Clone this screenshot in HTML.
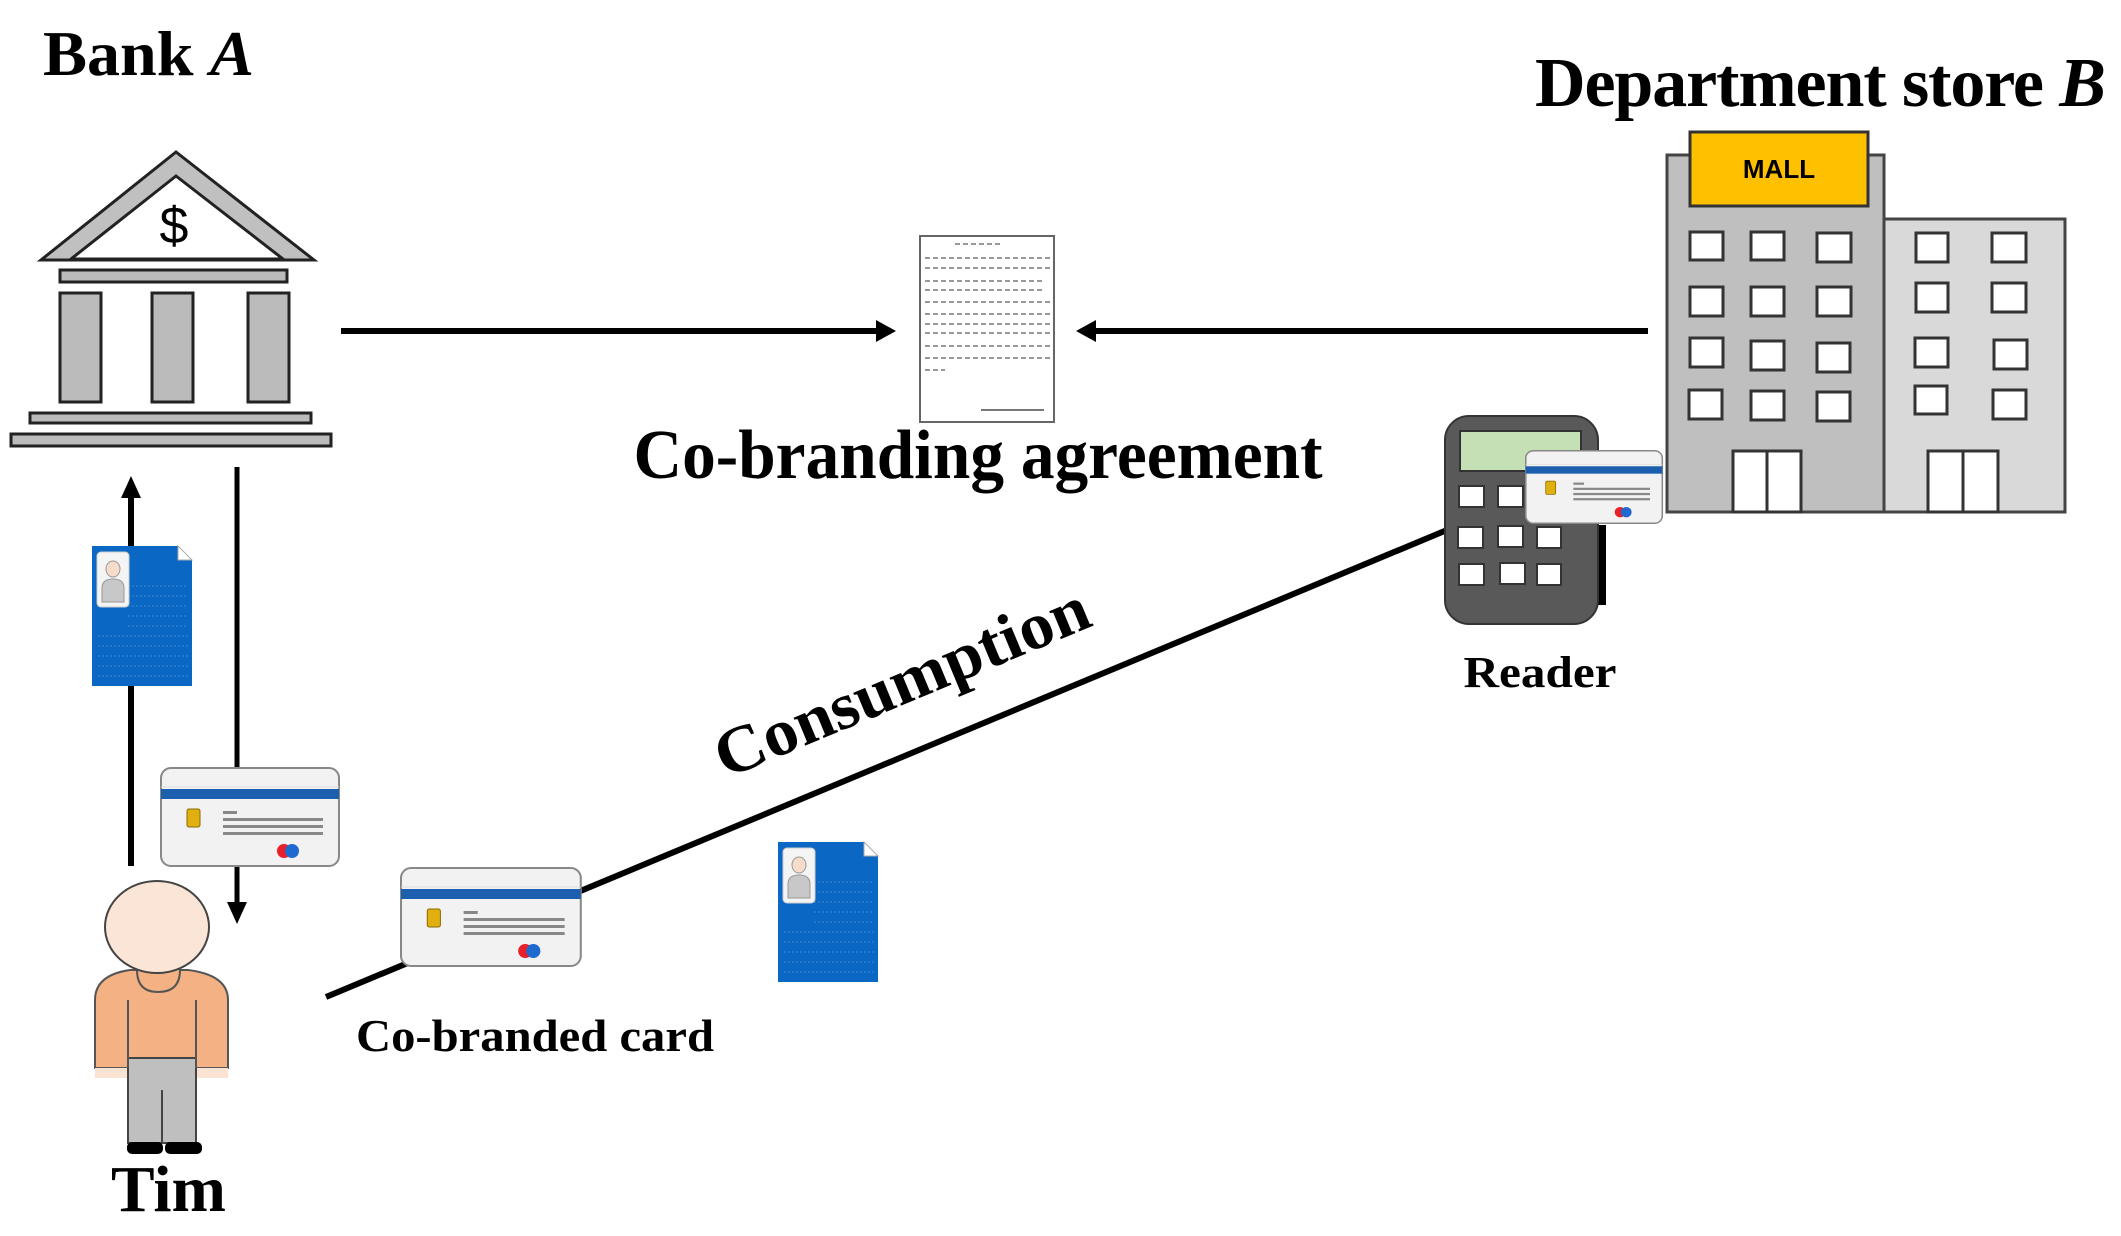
<!DOCTYPE html>
<html><head><meta charset="utf-8"><style>html,body{margin:0;padding:0;background:#fff}svg{display:block}</style></head>
<body>
<svg width="2121" height="1236" viewBox="0 0 2121 1236" xmlns="http://www.w3.org/2000/svg" font-family="'Liberation Serif', serif" font-weight="bold">
<defs>
<g id="card">
 <rect x="1" y="1" width="178" height="98" rx="10" fill="#f2f2f2" stroke="#888" stroke-width="2"/>
 <path d="M1 20 H179" stroke="#ddd" stroke-width="1"/>
 <rect x="1" y="22" width="178" height="10" fill="#1c5fae"/>
 <rect x="27" y="42" width="13" height="18" rx="2" fill="#e0b010" stroke="#8a6a00" stroke-width="1"/>
 <rect x="63" y="44" width="14" height="3" fill="#888"/>
 <rect x="63" y="51" width="100" height="3" fill="#888"/>
 <rect x="63" y="58" width="100" height="3" fill="#888"/>
 <rect x="63" y="65" width="100" height="3" fill="#888"/>
 <circle cx="124" cy="84" r="7" fill="#e8202a"/>
 <circle cx="132" cy="84" r="7" fill="#1e6ad0"/>
</g>
<g id="bdoc">
 <path d="M0 0 H86 L100 14 V140 H0 Z" fill="#0a68c4"/>
 <path d="M86 0 L100 14 H86 Z" fill="#fff" stroke="#aaa" stroke-width="1"/>
 <g stroke="#3d8ad6" stroke-width="1" stroke-dasharray="2 2">
  <path d="M36 40H96M36 50H96M36 60H96M36 70H96M36 80H96M6 90H96M6 100H96M6 110H96M6 120H96M6 130H96"/>
 </g>
 <rect x="5" y="6" width="32" height="55" rx="4" fill="#f4f4f4" stroke="#ccc"/>
 <ellipse cx="21" cy="23" rx="7" ry="8" fill="#f8dccb" stroke="#999"/>
 <path d="M10 56 V42 Q10 33 21 33 Q32 33 32 42 V56 Z" fill="#c8c8c8" stroke="#999"/>
</g>
</defs>

<text x="43" y="75" font-size="64" textLength="211" lengthAdjust="spacingAndGlyphs">Bank <tspan font-style="italic">A</tspan></text>
<polygon points="176,152 41,260 314,260" fill="#c0c0c0" stroke="#222" stroke-width="3"/>
<polygon points="176,176 71,259 283,259" fill="#fff" stroke="#222" stroke-width="3"/>
<text x="174" y="243" font-size="52" font-weight="normal" text-anchor="middle" font-family="'Liberation Sans',sans-serif">$</text>
<rect x="60" y="270" width="227" height="12" fill="#bbb" stroke="#222" stroke-width="3"/>
<rect x="60" y="293" width="41" height="109" fill="#bbb" stroke="#222" stroke-width="3"/>
<rect x="152" y="293" width="41" height="109" fill="#bbb" stroke="#222" stroke-width="3"/>
<rect x="248" y="293" width="41" height="109" fill="#bbb" stroke="#222" stroke-width="3"/>
<rect x="30" y="413" width="281" height="10" fill="#bbb" stroke="#222" stroke-width="3"/>
<rect x="11" y="434" width="320" height="12" fill="#bbb" stroke="#222" stroke-width="3"/>

<line x1="341" y1="331" x2="880" y2="331" stroke="#000" stroke-width="6"/>
<polygon points="896,331 876,320 876,342" fill="#000"/>
<line x1="1648" y1="331" x2="1092" y2="331" stroke="#000" stroke-width="6"/>
<polygon points="1076,331 1096,320 1096,342" fill="#000"/>

<rect x="920" y="236" width="134" height="186" fill="#fff" stroke="#666" stroke-width="2"/>
<g stroke="#999" stroke-width="2" stroke-dasharray="5 3">
<path d="M955 244H1000M925 258H1050M925 268H1050M925 281H1045M925 290H1045M925 302H1050M925 314H1050M925 324H1050M925 333H1050M925 346H1050M925 358H1050M925 370H945"/>
</g>
<line x1="981" y1="410" x2="1044" y2="410" stroke="#777" stroke-width="2"/>
<text x="978" y="478" font-size="70" text-anchor="middle" textLength="689" lengthAdjust="spacingAndGlyphs">Co-branding agreement</text>

<text x="1535" y="106" font-size="70" textLength="571" lengthAdjust="spacing">Department store <tspan font-style="italic">B</tspan></text>
<rect x="1667" y="155" width="217" height="357" fill="#bfbfbf" stroke="#444" stroke-width="3"/>
<rect x="1884" y="219" width="181" height="293" fill="#d9d9d9" stroke="#444" stroke-width="3"/>
<rect x="1690" y="132" width="178" height="74" fill="#ffc000" stroke="#333" stroke-width="3"/>
<text x="1779" y="178" font-size="26" text-anchor="middle" font-family="'Liberation Sans',sans-serif">MALL</text>
<g fill="#fff" stroke="#333" stroke-width="3">
<rect x="1690" y="232" width="33" height="28"/><rect x="1751" y="232" width="33" height="28"/><rect x="1817" y="233" width="34" height="29"/>
<rect x="1690" y="287" width="33" height="29"/><rect x="1751" y="287" width="33" height="29"/><rect x="1817" y="287" width="34" height="29"/>
<rect x="1690" y="338" width="33" height="29"/><rect x="1751" y="341" width="33" height="29"/><rect x="1817" y="343" width="33" height="29"/>
<rect x="1689" y="390" width="33" height="29"/><rect x="1751" y="391" width="33" height="29"/><rect x="1817" y="392" width="33" height="29"/>
<rect x="1916" y="233" width="32" height="29"/><rect x="1992" y="233" width="34" height="29"/>
<rect x="1916" y="283" width="32" height="29"/><rect x="1992" y="283" width="34" height="29"/>
<rect x="1915" y="338" width="33" height="29"/><rect x="1994" y="340" width="33" height="29"/>
<rect x="1915" y="386" width="32" height="28"/><rect x="1993" y="390" width="33" height="29"/>
<rect x="1733" y="451" width="34" height="61"/><rect x="1767" y="451" width="34" height="61"/>
<rect x="1928" y="451" width="35" height="61"/><rect x="1963" y="451" width="35" height="61"/>
</g>

<line x1="326" y1="997" x2="1447" y2="530" stroke="#000" stroke-width="6"/>

<rect x="1597" y="525" width="9" height="80" fill="#000"/>
<rect x="1445" y="416" width="153" height="208" rx="24" fill="#595959" stroke="#333" stroke-width="2"/>
<rect x="1460" y="431" width="121" height="40" fill="#c5e0b4" stroke="#333" stroke-width="2"/>
<g fill="#fff" stroke="#333" stroke-width="2">
<rect x="1459" y="486" width="25" height="21"/><rect x="1498" y="486" width="25" height="21"/>
<rect x="1458" y="527" width="25" height="21"/><rect x="1498" y="526" width="25" height="21"/><rect x="1537" y="527" width="24" height="21"/>
<rect x="1459" y="564" width="25" height="21"/><rect x="1500" y="563" width="25" height="21"/><rect x="1537" y="564" width="24" height="21"/>
</g>
<use href="#card" transform="translate(1525,450) scale(0.767,0.74)"/>
<text x="1540" y="687" font-size="44" text-anchor="middle" textLength="153" lengthAdjust="spacingAndGlyphs">Reader</text>

<text transform="translate(910,702) rotate(-22.6)" x="0" y="0" font-size="66" text-anchor="middle" textLength="400" lengthAdjust="spacingAndGlyphs">Consumption</text>

<line x1="131" y1="866" x2="131" y2="494" stroke="#000" stroke-width="6"/>
<polygon points="131,476 121,498 141,498" fill="#000"/>
<line x1="237" y1="467" x2="237" y2="904" stroke="#000" stroke-width="5"/>
<polygon points="237,924 227,902 247,902" fill="#000"/>

<use href="#bdoc" transform="translate(92,546)"/>
<use href="#card" transform="translate(160,767)"/>
<use href="#card" transform="translate(400,867) scale(1.01,1)"/>
<use href="#bdoc" transform="translate(778,842)"/>

<path d="M95 1068 V1000 Q95 975 130 970 H188 Q228 975 228 1000 V1068 Z" fill="#f4b183" stroke="#555" stroke-width="2"/>
<rect x="95" y="1068" width="133" height="10" fill="#fbe3d3"/>
<rect x="128" y="1058" width="68" height="85" fill="#bfbfbf" stroke="#444" stroke-width="2"/>
<line x1="162" y1="1090" x2="162" y2="1143" stroke="#444" stroke-width="2"/>
<line x1="128" y1="1000" x2="128" y2="1068" stroke="#555" stroke-width="2"/>
<line x1="196" y1="1000" x2="196" y2="1068" stroke="#555" stroke-width="2"/>
<path d="M137 970 Q137 992 158 992 Q180 992 180 970" fill="#f4b183" stroke="#555" stroke-width="2"/>
<ellipse cx="157" cy="927" rx="52" ry="46" fill="#fbe5d6" stroke="#444" stroke-width="2"/>
<rect x="127" y="1142" width="36" height="12" rx="5" fill="#000"/>
<rect x="165" y="1142" width="37" height="12" rx="5" fill="#000"/>
<text x="111" y="1211" font-size="66" textLength="115" lengthAdjust="spacingAndGlyphs">Tim</text>

<text x="356" y="1051" font-size="46" textLength="358" lengthAdjust="spacingAndGlyphs">Co-branded card</text>
</svg>
</body></html>
